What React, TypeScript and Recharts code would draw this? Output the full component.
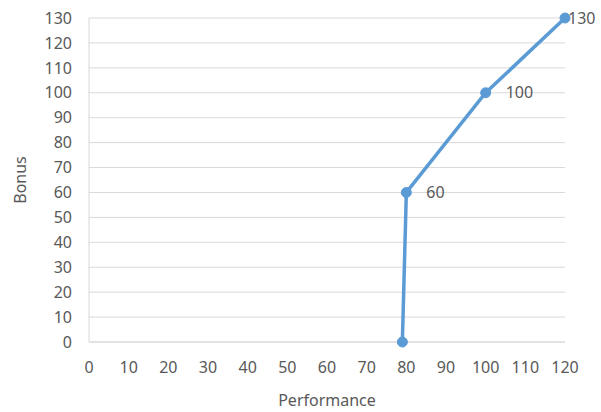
import {CartesianGrid, Line, LineChart, XAxis, YAxis, LabelList} from "recharts"

const performance = [79, 80, 100, 120]
const bonus = [0, 60, 100, 130]
const pointLabels = ["", "60", "100", "130"]
const xTicks = [0, 10, 20, 30, 40, 50, 60, 70, 80, 90, 100, 110, 120]
const yTicks = [0, 10, 20, 30, 40, 50, 60, 70, 80, 90, 100, 110, 120, 130]

const data = performance.map((p, i) => ({performance: p, bonus: bonus[i], label: pointLabels[i]}))

const blue = "#5B9BD5"
const textColor = "#595959"
const font = "'Noto Sans', 'Open Sans', sans-serif"

function PointLabel(props: any) {
    const {x, y, value, index} = props
    if (!value) return null
    // last point sits at the edge, so its label hugs the marker
    const dx = index === data.length - 1 ? 3 : 20
    return (
        <text x={x + dx} y={y} dy="0.35em" fill={textColor} fontSize={16} fontFamily={font}>
            {value}
        </text>
    )
}

export default function App() {
    return (
        <div style={{position: "absolute", left: 0, top: 0}}>
            <LineChart width={601} height={412} data={data}
                margin={{top: 18, right: 36, left: 0, bottom: 0}}>
                <CartesianGrid vertical={false} stroke="#d9d9d9" />
                <XAxis dataKey="performance" type="number" domain={[0, 120]} ticks={xTicks}
                    height={70} tickLine={false} stroke="#d9d9d9" tickMargin={14}
                    tick={{fill: textColor, fontSize: 16, fontFamily: font}}
                    label={{value: "Performance", position: "insideBottom", offset: 6,
                        fill: textColor, fontSize: 16, fontFamily: font}} />
                <YAxis type="number" domain={[0, 130]} ticks={yTicks} width={89}
                    tickLine={false} stroke="#d9d9d9" tickMargin={11}
                    tick={{fill: textColor, fontSize: 16, fontFamily: font}}
                    label={{value: "Bonus", angle: -90, position: "insideLeft", offset: 20,
                        fill: textColor, fontSize: 16, fontFamily: font, style: {textAnchor: "middle"}}} />
                <Line dataKey="bonus" stroke={blue} strokeWidth={3.5}
                    dot={{r: 5, fill: blue, stroke: blue, strokeWidth: 1}}
                    isAnimationActive={false}>
                    <LabelList dataKey="label" content={<PointLabel />} />
                </Line>
            </LineChart>
        </div>
    )
}
